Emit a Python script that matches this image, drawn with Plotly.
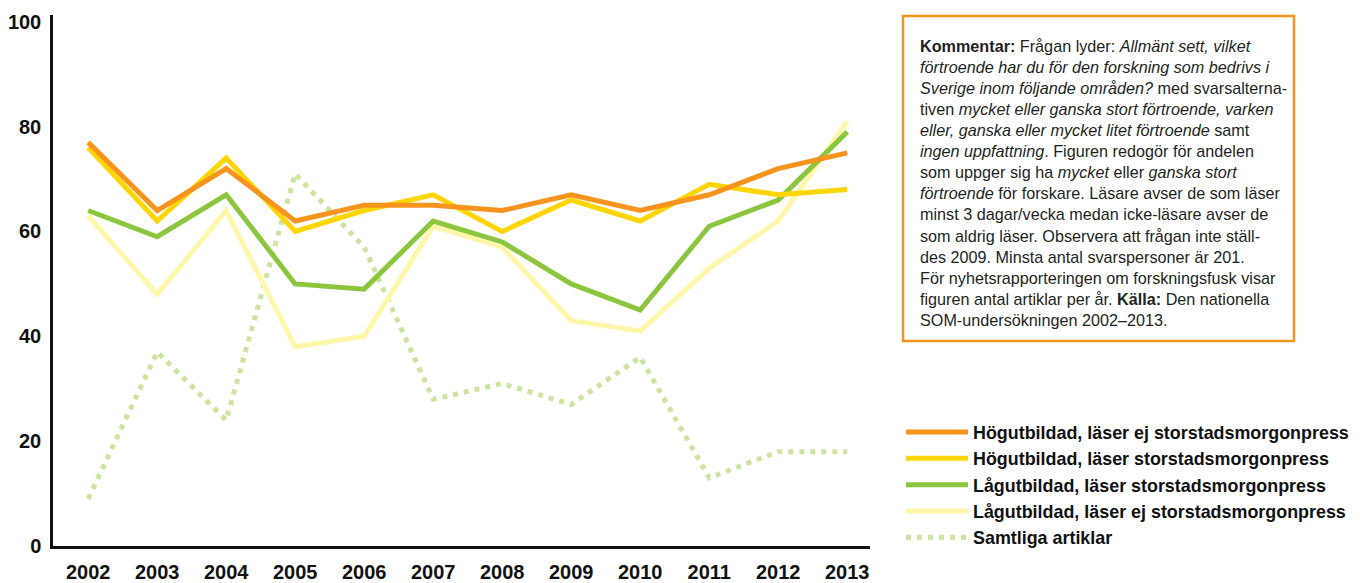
import plotly.graph_objects as go

years = [2002, 2003, 2004, 2005, 2006, 2007, 2008, 2009, 2010, 2011, 2012, 2013]

hog_ej = [77, 64, 72, 62, 65, 65, 64, 67, 64, 67, 72, 75]
hog_las = [76, 62, 74, 60, 64, 67, 60, 66, 62, 69, 67, 68]
lag_las = [64, 59, 67, 50, 49, 62, 58, 50, 45, 61, 66, 79]
lag_ej = [63, 48, 64, 38, 40, 61, 57, 43, 41, 53, 62, 81]
artiklar = [9, 37, 24, 71, 57, 28, 31, 27, 36, 13, 18, 18]

y_ticks = [0, 20, 40, 60, 80, 100]

FONT = "Liberation Sans, Arial, sans-serif"

# draw order: dotted at the bottom, orange on top
series = [
    ("Samtliga artiklar", artiklar, "#cde3a0", "dot"),
    ("Lågutbildad, läser ej storstadsmorgonpress", lag_ej, "#fff6aa", "solid"),
    ("Lågutbildad, läser storstadsmorgonpress", lag_las, "#8cc63f", "solid"),
    ("Högutbildad, läser storstadsmorgonpress", hog_las, "#ffd500", "solid"),
    ("Högutbildad, läser ej storstadsmorgonpress", hog_ej, "#f7941d", "solid"),
]

fig = go.Figure()
for name, vals, color, dash in series:
    fig.add_trace(go.Scatter(
        x=years,
        y=vals,
        name=name,
        mode="lines",
        line=dict(color=color, width=5, dash="5px,6px" if dash == "dot" else dash),
    ))

kommentar = (
    "<b>Kommentar:</b> Frågan lyder: <i>Allmänt sett, vilket</i><br>"
    "<i>förtroende har du för den forskning som bedrivs i</i><br>"
    "<i>Sverige inom följande områden?</i> med svarsalterna-<br>"
    "tiven <i>mycket eller ganska stort förtroende, varken</i><br>"
    "<i>eller, ganska eller mycket litet förtroende</i> samt<br>"
    "<i>ingen uppfattning</i>. Figuren redogör för andelen<br>"
    "som uppger sig ha <i>mycket</i> eller <i>ganska stort</i><br>"
    "<i>förtroende</i> för forskare. Läsare avser de som läser<br>"
    "minst 3 dagar/vecka medan icke-läsare avser de<br>"
    "som aldrig läser. Observera att frågan inte ställ-<br>"
    "des 2009. Minsta antal svarspersoner är 201.<br>"
    "För nyhetsrapporteringen om forskningsfusk visar<br>"
    "figuren antal artiklar per år. <b>Källa:</b> Den nationella<br>"
    "SOM-undersökningen 2002–2013."
)

fig.add_shape(
    type="rect", xref="paper", yref="paper",
    x0=1.0404, x1=1.519, y0=0.386, y1=0.998,
    line=dict(color="#f7941d", width=2.5), fillcolor="rgba(0,0,0,0)",
)
fig.add_annotation(
    text=kommentar, xref="paper", yref="paper",
    x=1.0588, y=0.962, xanchor="left", yanchor="top",
    align="left", showarrow=False,
    font=dict(family=FONT, size=16.2, color="#231f20"),
)

# the page body adds an 8px offset, so the figure is 8px smaller each way
fig.update_layout(
    width=1352,
    height=575,
    margin=dict(l=45, r=490, t=7, b=37),
    paper_bgcolor="white",
    plot_bgcolor="white",
    font=dict(family=FONT, color="#111"),
    legend=dict(
        traceorder="reversed",
        xref="container", yref="container",
        x=0.6605, y=0.294, xanchor="left", yanchor="top",
        itemwidth=62,
        font=dict(family=FONT, size=17.9, color="#111", weight="bold"),
        bgcolor="rgba(0,0,0,0)",
    ),
    xaxis=dict(
        range=[2001.49, 2013.33],
        tickvals=years,
        showgrid=False, zeroline=False, automargin=False,
        showline=True, linecolor="#111", linewidth=2.5,
        ticks="", ticklabelstandoff=6,
        tickfont=dict(family=FONT, size=20, color="#111", weight="bold"),
    ),
    yaxis=dict(
        range=[0, 101.3],
        tickvals=y_ticks,
        showgrid=False, zeroline=False, automargin=False,
        showline=True, linecolor="#111", linewidth=2.5,
        ticks="", ticklabelstandoff=5,
        tickfont=dict(family=FONT, size=20, color="#111", weight="bold"),
    ),
)

fig.write_html("out.html")
